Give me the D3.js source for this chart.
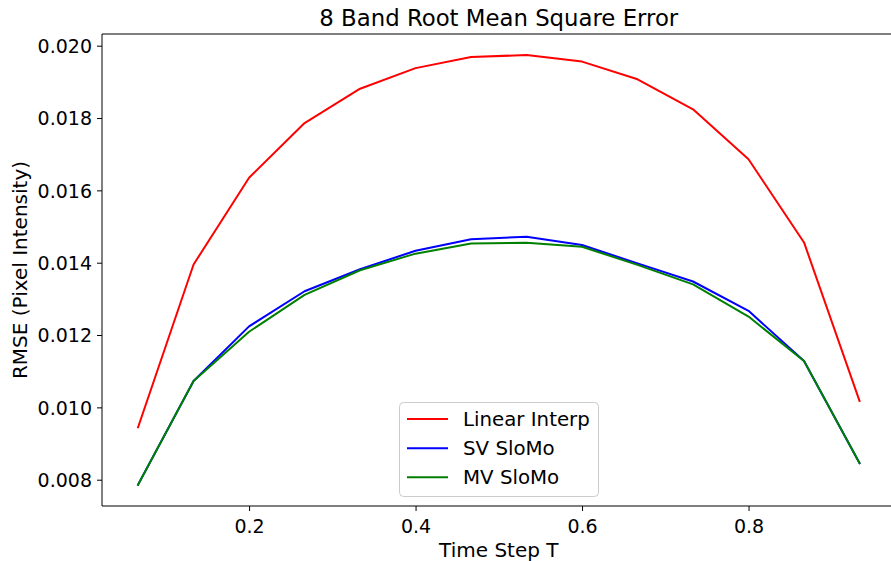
<!DOCTYPE html>
<html>
<head>
<meta charset="utf-8">
<script src="https://cdn.jsdelivr.net/npm/d3@7"></script>
<style>
  html, body { margin: 0; padding: 0; background: #fff; }
  svg { display: block; font-family: "DejaVu Sans", sans-serif; }
</style>
</head>
<body>
<svg id="chart" width="891" height="561"></svg>
<script>
// ---- data ----
const timeSteps = [1/15, 2/15, 3/15, 4/15, 5/15, 6/15, 7/15, 8/15, 9/15, 10/15, 11/15, 12/15, 13/15, 14/15];
const linearInterp = [0.00945, 0.01395, 0.01635, 0.01786, 0.01881, 0.01938, 0.01969, 0.01974, 0.01956, 0.01907, 0.01824, 0.01686, 0.01456, 0.01018];
const svSloMo = [0.00786, 0.01073, 0.01224, 0.01321, 0.01382, 0.01433, 0.01465, 0.01472, 0.01449, 0.01398, 0.01348, 0.01267, 0.01128, 0.00846];
const mvSloMo = [0.00786, 0.01073, 0.01209, 0.01311, 0.01379, 0.01425, 0.01453, 0.01455, 0.01444, 0.01394, 0.01340, 0.01251, 0.01128, 0.00846];
const seriesNames = ["Linear Interp", "SV SloMo", "MV SloMo"];
const seriesColors = ["#ff0000", "#0000ff", "#008000"];
const xTicks = [0.2, 0.4, 0.6, 0.8];
const yTicks = [0.008, 0.010, 0.012, 0.014, 0.016, 0.018, 0.020];
const titleText = "8 Band Root Mean Square Error";
const xLabel = "Time Step T";
const yLabel = "RMSE (Pixel Intensity)";

(function () {
// ---- layout ----
const svg = d3.select("#chart");
const pL = 102, pR = 895.6, pT = 34, pB = 506;

const x = d3.scaleLinear().domain([0.023333, 0.976667]).range([pL, pR]);
const y = d3.scaleLinear().domain([0.007273, 0.020323]).range([pB, pT]);

const allSeries = [linearInterp, svSloMo, mvSloMo];

// lines
const line = d3.line().x((d, i) => x(timeSteps[i])).y(d => y(d));
const plot = svg.append("g");
allSeries.forEach((vals, s) => {
  plot.append("path")
    .datum(vals)
    .attr("d", line)
    .attr("fill", "none")
    .attr("stroke", seriesColors[s])
    .attr("stroke-width", 2)
    .attr("stroke-linejoin", "round")
    .attr("stroke-linecap", "square");
});

// axes
const xAxis = d3.axisBottom(x).tickValues(xTicks).tickFormat(d3.format(".1f")).tickSize(5).tickPadding(5);
const yAxis = d3.axisLeft(y).tickValues(yTicks).tickFormat(d3.format(".3f")).tickSize(5).tickPadding(5);

const gx = svg.append("g").attr("transform", `translate(0,${pB})`).call(xAxis);
const gy = svg.append("g").attr("transform", `translate(${pL},0)`).call(yAxis);
[gx, gy].forEach(g => {
  g.select(".domain").remove();
  g.selectAll(".tick line").attr("stroke", "#000").attr("stroke-width", 1);
  g.selectAll(".tick text").attr("fill", "#000").style("font-size", "19px").style("font-family", "DejaVu Sans");
});
gx.selectAll(".tick text").attr("dy", "0.9em");
gy.selectAll(".tick text").attr("dy", "0.36em");

// spines
const spine = (x1, y1, x2, y2) => svg.append("line").attr("x1", x1).attr("y1", y1).attr("x2", x2).attr("y2", y2)
  .attr("stroke", "#000").attr("stroke-width", 1);
spine(pL, pT, pL, pB);
spine(pL, pB, pR, pB);
spine(pL, pT, pR, pT);
spine(pR, pT, pR, pB);

// title & labels
svg.append("text").attr("x", (pL + pR) / 2).attr("y", 26).attr("text-anchor", "middle")
  .style("font-size", "22.8px").attr("fill", "#000").text(titleText);
svg.append("text").attr("x", (pL + pR) / 2).attr("y", 557).attr("text-anchor", "middle")
  .style("font-size", "20px").attr("fill", "#000").text(xLabel);
svg.append("text").attr("transform", `translate(27,${(pT + pB) / 2}) rotate(-90)`).attr("text-anchor", "middle")
  .style("font-size", "20px").attr("fill", "#000").text(yLabel);

// legend
const lg = svg.append("g");
lg.append("rect").attr("x", 399.5).attr("y", 402.5).attr("width", 199).attr("height", 94)
  .attr("rx", 4).attr("fill", "#fff").attr("fill-opacity", 0.8).attr("stroke", "#cccccc").attr("stroke-width", 1);
const rowY = [419, 448.3, 477.3];
seriesNames.forEach((name, i) => {
  lg.append("line").attr("x1", 407).attr("x2", 448).attr("y1", rowY[i]).attr("y2", rowY[i])
    .attr("stroke", seriesColors[i]).attr("stroke-width", 2);
  lg.append("text").attr("x", 463).attr("y", rowY[i]).attr("dy", "0.36em")
    .style("font-size", "19.8px").attr("fill", "#000").text(name);
});
})();
</script>
</body>
</html>
